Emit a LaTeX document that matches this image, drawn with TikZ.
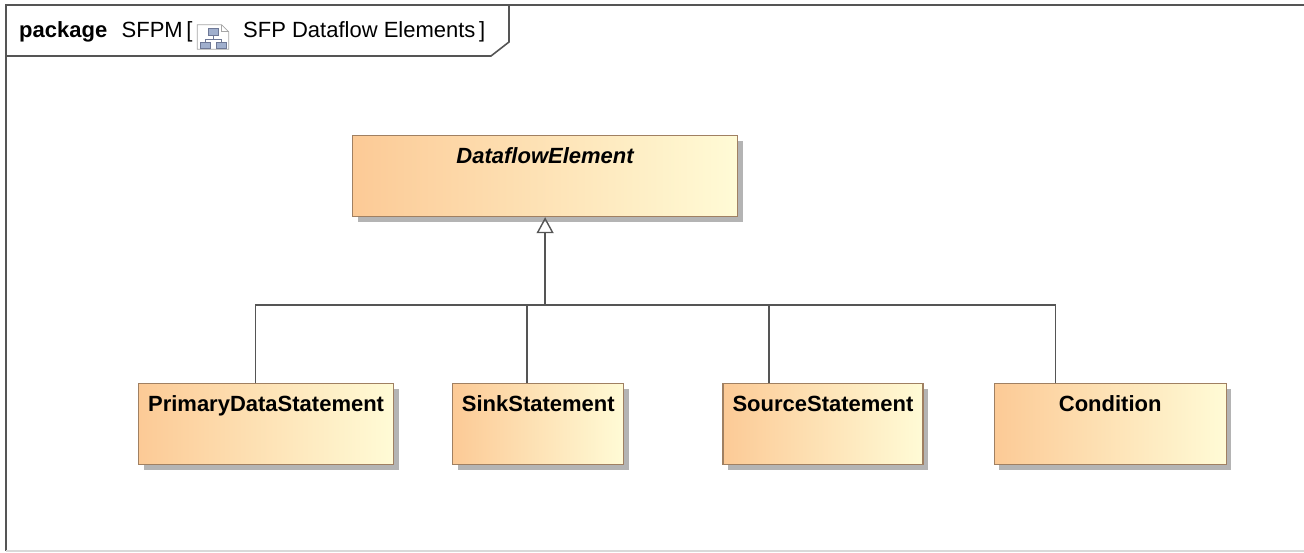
\documentclass[tikz,border=0pt]{standalone}
\usepackage{fontspec}
\setmainfont{Liberation Sans}
\usepackage{tikz}
\usetikzlibrary{arrows.meta,positioning,shadows}

\definecolor{classleft}{RGB}{252,202,150}
\definecolor{classright}{RGB}{255,251,214}
\definecolor{classline}{RGB}{160,128,98}
\definecolor{lineg}{RGB}{85,85,85}
\definecolor{shadowg}{RGB}{180,180,180}
\definecolor{iconbox}{RGB}{160,175,205}
\definecolor{iconline}{RGB}{110,120,150}

\begin{document}
\begin{tikzpicture}[x=1pt,y=-1pt,
  class/.style={rectangle,draw=classline,line width=1.2pt,left color=classleft,right color=classright,
    font=\fontsize{22}{26}\selectfont\bfseries,inner xsep=0pt,inner ysep=4pt,
    text height=24pt,text depth=49pt,
    drop shadow={shadow xshift=5pt,shadow yshift=-5pt,fill=shadowg,opacity=1}},
  gen/.style={draw=lineg,line width=1.4pt},
  frame/.style={draw=lineg,line width=1.6pt},
  head/.style={inner sep=0pt,font=\fontsize{22}{26}\selectfont}]

\useasboundingbox (0,0) rectangle (1304,552);

% frame and tab
\draw[frame] (1320,5) -- (6,5) -- (6,551);
\draw[draw=black!15,line width=1.2pt] (6,551) -- (1320,551);
\draw[frame] (6,56) -- (491,56) -- (509,42) -- (509,5);

\node(pkg)[head,anchor=base west] at (19,37.5){\bfseries package};

\node(pkgname)[head,base right=14pt of pkg]{SFPM\,[};

\node(title)[head,anchor=base west] at (243,37.5){SFP Dataflow Elements\,]};

% diagram icon
\node(icon)[inner sep=0pt,minimum width=31pt,minimum height=24pt] at (213,37){};
\draw[draw=black!35,fill=white,line width=0.8pt] (icon.south west) -- (icon.north west) -- ([xshift=-7pt]icon.north east) -- ([yshift=-7pt]icon.north east) -- (icon.south east) -- cycle;
\draw[draw=black!35,line width=0.8pt] ([xshift=-7pt]icon.north east) -- ([xshift=-7pt,yshift=-7pt]icon.north east) -- ([yshift=-7pt]icon.north east);
\draw[iconline,line width=0.8pt] (213,35) -- (213,39) (205,39) -- (221,39) (205,39) -- (205,42) (221,39) -- (221,42);
\draw[draw=iconline,fill=iconbox,line width=0.6pt] (208,28) rectangle (218,35);
\draw[draw=iconline,fill=iconbox,line width=0.6pt] (200,42) rectangle (210,48);
\draw[draw=iconline,fill=iconbox,line width=0.6pt] (216,42) rectangle (226,48);

% classes
\node(dfe)[class,minimum width=385pt,anchor=north west] at (352,135){\itshape DataflowElement};

\node(pds)[class,minimum width=255pt,anchor=north west] at (138,383){PrimaryDataStatement};

\node(sink)[class,minimum width=171pt,right=58pt of pds]{SinkStatement};

\node(src)[class,minimum width=200pt,right=98pt of sink]{SourceStatement};

\node(cond)[class,minimum width=232pt,right=70pt of src]{Condition};

\coordinate(hub) at (dfe.south |- 0,305);

\draw [gen] ([xshift=-10.5pt]pds.north) |- (hub);
\draw [gen] ([xshift=-11.5pt]sink.north) |- (hub);
\draw [gen] ([xshift=-54pt]src.north) |- (hub);
\draw [gen] ([xshift=-55pt]cond.north) |- (hub);
\draw [gen,-{Triangle[open,length=16pt,width=17pt]}] (hub) -- (dfe.south);

\end{tikzpicture}
\end{document}
